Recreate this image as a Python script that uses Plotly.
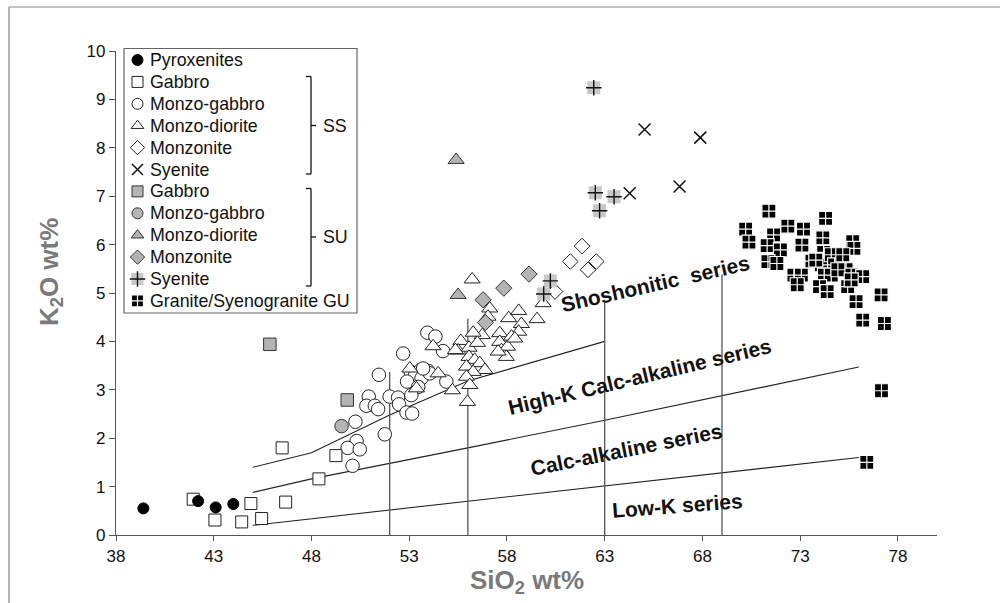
import plotly.graph_objects as go

# ---------------- data ----------------
pyrox_x = [39.4, 42.2, 43.1, 44.0]
pyrox_y = [0.55, 0.70, 0.57, 0.64]

gab_ss_x = [41.95, 43.06, 44.43, 44.9, 45.45, 46.68, 46.5, 49.25, 48.38]
gab_ss_y = [0.74, 0.31, 0.27, 0.65, 0.34, 0.68, 1.80, 1.64, 1.16]

mgab_ss_x = [53.93, 54.34, 54.73, 52.69, 51.45, 53.08, 53.59, 53.97, 53.29, 53.63, 52.89, 53.46,
             54.9, 50.93, 52.0, 52.43, 50.81, 51.24, 51.41, 52.48, 53.11, 52.86, 53.15, 50.25,
             51.75, 50.31, 49.85, 50.47, 50.1, 54.05, 53.71]
mgab_ss_y = [4.18, 4.10, 3.80, 3.75, 3.31, 3.37, 3.41, 3.39, 3.29, 3.24, 3.17, 3.06,
             3.17, 2.86, 2.86, 2.84, 2.67, 2.67, 2.60, 2.70, 2.89, 2.53, 2.51, 2.34,
             2.08, 1.94, 1.80, 1.77, 1.43, 3.34, 3.44]

mdio_ss_x = [56.22, 57.12, 57.03, 58.09, 58.6, 59.54, 59.85, 58.74, 58.6, 57.63, 56.74, 56.27,
             55.64, 54.22, 55.5, 56.06, 56.49, 56.06, 56.35, 55.93, 56.61, 56.87, 56.27, 55.93,
             56.1, 55.98, 55.21, 54.48, 57.63, 57.72, 57.97, 58.03, 58.23, 58.4, 53.03, 53.37,
             55.36, 57.55]
mdio_ss_y = [5.28, 4.68, 4.51, 4.48, 4.63, 4.46, 4.79, 4.36, 4.20, 4.17, 4.13, 4.18,
             4.01, 3.90, 3.81, 3.87, 3.97, 3.68, 3.62, 3.48, 3.55, 3.41, 3.37, 3.27,
             3.10, 2.75, 2.99, 3.34, 3.99, 3.82, 3.68, 3.89, 4.10, 4.06, 3.44, 3.03,
             3.82, 3.79]

monz_ss_x = [61.84, 61.24, 62.57, 62.15, 60.46]
monz_ss_y = [5.97, 5.65, 5.65, 5.48, 5.03]

sye_ss_x = [65.04, 67.89, 66.83, 64.28]
sye_ss_y = [8.38, 8.21, 7.20, 7.06]

gab_su_x = [45.87, 49.83]
gab_su_y = [3.94, 2.79]

mgab_su_x = [49.54]
mgab_su_y = [2.25]

mdio_su_x = [55.4, 55.5]
mdio_su_y = [7.75, 4.96]

monz_su_x = [56.78, 57.84, 59.13, 56.9]
monz_su_y = [4.86, 5.10, 5.39, 4.39]

sye_su_x = [60.22, 59.88, 62.44, 62.52, 62.74, 63.48]
sye_su_y = [5.25, 4.98, 9.24, 7.07, 6.70, 6.99]

gran_x = [71.4, 70.21, 70.38, 71.64, 71.31, 71.99, 71.35, 71.81, 72.37, 73.17, 73.09, 74.3,
          74.16, 74.2, 75.69, 75.75, 73.6, 74.08, 74.59, 74.76, 75.18, 75.35, 75.61, 76.2,
          74.24, 74.59, 72.68, 73.06, 72.85, 73.99, 74.38, 75.43, 75.86, 77.14, 76.2, 77.31,
          77.16, 76.41, 74.93, 73.8, 75.61]
gran_y = [6.69, 6.32, 6.05, 6.20, 5.98, 5.89, 5.65, 5.61, 6.38, 6.32, 5.99, 6.54,
          6.14, 5.84, 6.06, 5.92, 5.66, 5.58, 5.79, 5.58, 5.79, 5.48, 5.37, 5.34,
          5.37, 5.37, 5.37, 5.37, 5.17, 5.13, 5.03, 5.13, 4.82, 4.96, 4.44, 4.37,
          2.98, 1.50, 5.48, 5.68, 5.27]

# boundary lines (Peccerillo & Taylor)
sho_x = [45, 48, 52, 56, 63]
sho_y = [1.4, 1.7, 2.48, 3.18, 4.0]
hk_x = [45, 48, 56, 63, 76]
hk_y = [0.88, 1.16, 1.8, 2.37, 3.47]
lk_x = [45, 76]
lk_y = [0.2, 1.6]
vert_x = [52, 56, 63, 69]
vert_top = [3.37, 4.47, 4.8, 5.38]

series_labels = ["Shoshonitic  series", "High-K Calc-alkaline series", "Calc-alkaline series", "Low-K series"]
label_x = [65.6, 64.8, 64.1, 66.7]
label_y = [5.2, 3.27, 1.76, 0.6]
label_ang = [-12.8, -13.4, -11.3, -4.3]

xticks = [38, 43, 48, 53, 58, 63, 68, 73, 78]
yticks = list(range(0, 11))

legend_names = ["Pyroxenites", "Gabbro", "Monzo-gabbro", "Monzo-diorite", "Monzonite", "Syenite",
                "Gabbro", "Monzo-gabbro", "Monzo-diorite", "Monzonite", "Syenite",
                "Granite/Syenogranite GU"]

# ---------------- styling ----------------
FONT = "Liberation Sans, Arial, Helvetica, sans-serif"
GRAY = "#b4b4b4"
W, H = 1000, 603
L, R, T, B = 116, 63, 51, 68
PW, PH = W - L - R, H - T - B


def px2paper_x(px):
    return (px - L) / PW


def px2paper_y(py):
    return (H - B - py) / PH


fig = go.Figure()

# boundary lines
for xs, ys in [(sho_x, sho_y), (hk_x, hk_y), (lk_x, lk_y)]:
    fig.add_trace(go.Scatter(x=xs, y=ys, mode="lines", line=dict(color="#222", width=1.1),
                             showlegend=False, hoverinfo="skip"))
for vx, vt in zip(vert_x, vert_top):
    fig.add_trace(go.Scatter(x=[vx, vx], y=[0, vt], mode="lines", line=dict(color="#555", width=1.3),
                             showlegend=False, hoverinfo="skip"))

# marker style definitions
styles = {
    "pyrox": dict(symbol="circle", size=11, color="black", line=dict(color="black", width=1)),
    "gab_ss": dict(symbol="square", size=12, color="white", line=dict(color="#222", width=1)),
    "mgab_ss": dict(symbol="circle", size=13.5, color="white", line=dict(color="#222", width=1)),
    "mdio_ss": dict(symbol="triangle-up", size=14, color="white", line=dict(color="#222", width=1)),
    "monz_ss": dict(symbol="diamond", size=12, color="white", line=dict(color="#222", width=1)),
    "sye_ss": dict(symbol="x-thin", size=12, color="#111", line=dict(color="#111", width=1.5)),
    "gab_su": dict(symbol="square", size=12.5, color=GRAY, line=dict(color="#333", width=1)),
    "mgab_su": dict(symbol="circle", size=13.5, color=GRAY, line=dict(color="#333", width=1)),
    "mdio_su": dict(symbol="triangle-up", size=14, color=GRAY, line=dict(color="#333", width=1)),
    "monz_su": dict(symbol="diamond", size=12.5, color=GRAY, line=dict(color="#333", width=1)),
    "sye_su_bg": dict(symbol="square", size=13, color="#c8c8c8", line=dict(width=0)),
    "sye_su_fg": dict(symbol="cross-thin", size=11, color="#111", line=dict(color="#111", width=1.4)),
    "gran": dict(symbol="square-cross", size=14, color="black", line=dict(color="white", width=1.2)),
}

data_sets = [
    ("mgab_ss", mgab_ss_x, mgab_ss_y),
    ("mdio_ss", mdio_ss_x, mdio_ss_y),
    ("gab_ss", gab_ss_x, gab_ss_y),
    ("pyrox", pyrox_x, pyrox_y),
    ("monz_ss", monz_ss_x, monz_ss_y),
    ("sye_ss", sye_ss_x, sye_ss_y),
    ("gab_su", gab_su_x, gab_su_y),
    ("mgab_su", mgab_su_x, mgab_su_y),
    ("mdio_su", mdio_su_x, mdio_su_y),
    ("monz_su", monz_su_x, monz_su_y),
    ("sye_su_bg", sye_su_x, sye_su_y),
    ("sye_su_fg", sye_su_x, sye_su_y),
    ("gran", gran_x, gran_y),
]
for key, xs, ys in data_sets:
    fig.add_trace(go.Scatter(x=xs, y=ys, mode="markers", marker=styles[key],
                             showlegend=False, hoverinfo="skip"))

# ---------------- manual legend (pixel axes x2/y2) ----------------
leg_keys = ["pyrox", "gab_ss", "mgab_ss", "mdio_ss", "monz_ss", "sye_ss",
            "gab_su", "mgab_su", "mdio_su", "monz_su", "sye_su", "gran"]
leg_y0, leg_dy = 60, 21.9
leg_ys = [leg_y0 + i * leg_dy for i in range(len(leg_keys))]
leg_mx = 137.5
for key, yy in zip(leg_keys, leg_ys):
    if key == "sye_su":
        for k2, sz in [("sye_su_bg", 12), ("sye_su_fg", 11)]:
            st = dict(styles[k2]); st["size"] = sz
            fig.add_trace(go.Scatter(x=[leg_mx], y=[yy], xaxis="x2", yaxis="y2", mode="markers",
                                     marker=st, showlegend=False, hoverinfo="skip"))
    else:
        st = dict(styles[key]); st["size"] = 12 if key == "gran" else 11
        fig.add_trace(go.Scatter(x=[leg_mx], y=[yy], xaxis="x2", yaxis="y2", mode="markers",
                                 marker=st, showlegend=False, hoverinfo="skip"))

LEGFONT = dict(family=FONT, size=17.8, color="#111")
annotations = []
for name, yy in zip(legend_names, leg_ys):
    annotations.append(dict(x=147.5, y=yy, xref="x2", yref="y2", text=name, showarrow=False,
                            xanchor="left", yanchor="middle", font=LEGFONT))
for txt, yy in [("SS", 125.5), ("SU", 237)]:
    annotations.append(dict(x=321, y=yy, xref="x2", yref="y2", text=txt, showarrow=False,
                            xanchor="left", yanchor="middle", font=LEGFONT))

for txt, xx, yy, ang in zip(series_labels, label_x, label_y, label_ang):
    annotations.append(dict(x=xx, y=yy, xref="x", yref="y", text="<b>" + txt + "</b>",
                            showarrow=False, textangle=ang, xanchor="center", yanchor="middle",
                            font=dict(family=FONT, size=21, color="#111")))

# axis titles
TITLEFONT = dict(family=FONT, size=26, color="#7a7a7a")
annotations.append(dict(x=px2paper_x(527), y=px2paper_y(581), xref="paper", yref="paper",
                        text="<b>SiO<sub>2</sub> wt%</b>", showarrow=False,
                        xanchor="center", yanchor="middle", font=TITLEFONT))
annotations.append(dict(x=px2paper_x(50), y=px2paper_y(272), xref="paper", yref="paper",
                        text="<b>K<sub>2</sub>O wt%</b>", showarrow=False, textangle=-90,
                        xanchor="center", yanchor="middle", font=TITLEFONT))

shapes = []
# legend box
shapes.append(dict(type="rect", xref="paper", yref="paper",
                   x0=px2paper_x(124), x1=px2paper_x(357), y0=px2paper_y(313), y1=px2paper_y(48.5),
                   line=dict(color="#666", width=1.2), fillcolor="rgba(0,0,0,0)", layer="above"))
# brackets
for top, bot, mid in [(76.5, 174, 125.5), (188.5, 286, 237)]:
    bx = 311
    pts = [(306, top, bx, top), (bx, top, bx, bot), (306, bot, bx, bot), (bx, mid, 316, mid)]
    for x0, y0, x1, y1 in pts:
        shapes.append(dict(type="line", xref="paper", yref="paper",
                           x0=px2paper_x(x0), x1=px2paper_x(x1), y0=px2paper_y(y0), y1=px2paper_y(y1),
                           line=dict(color="#111", width=1.3)))
# outer frame (top & left)
shapes.append(dict(type="line", xref="paper", yref="paper", x0=px2paper_x(9), x1=px2paper_x(1000),
                   y0=px2paper_y(7), y1=px2paper_y(7), line=dict(color="#888", width=1.2)))
shapes.append(dict(type="line", xref="paper", yref="paper", x0=px2paper_x(9), x1=px2paper_x(9),
                   y0=px2paper_y(7), y1=px2paper_y(603), line=dict(color="#888", width=1.2)))

fig.update_layout(
    width=W, height=H, margin=dict(l=L, r=R, t=T, b=B),
    paper_bgcolor="white", plot_bgcolor="white",
    showlegend=False,
    font=dict(family=FONT, color="#111"),
    xaxis=dict(range=[38, 80], tickvals=xticks, ticktext=[str(v) for v in xticks],
               showgrid=False, zeroline=False, showline=True, linecolor="#555", linewidth=1.3,
               ticks="outside", ticklen=5, tickcolor="#555", tickfont=dict(size=17, color="#111")),
    yaxis=dict(range=[0, 10], tickvals=yticks, showgrid=False, zeroline=False, showline=True,
               linecolor="#555", linewidth=1.3, ticks="outside", ticklen=6, tickcolor="#555",
               tickfont=dict(size=17, color="#111")),
    xaxis2=dict(range=[L, W - R], domain=[0, 1], overlaying="x", visible=False, fixedrange=True),
    yaxis2=dict(range=[H - B, T], domain=[0, 1], overlaying="y", visible=False, fixedrange=True,
                anchor="x2"),
    annotations=annotations,
    shapes=shapes,
)

fig.write_html("out.html")
